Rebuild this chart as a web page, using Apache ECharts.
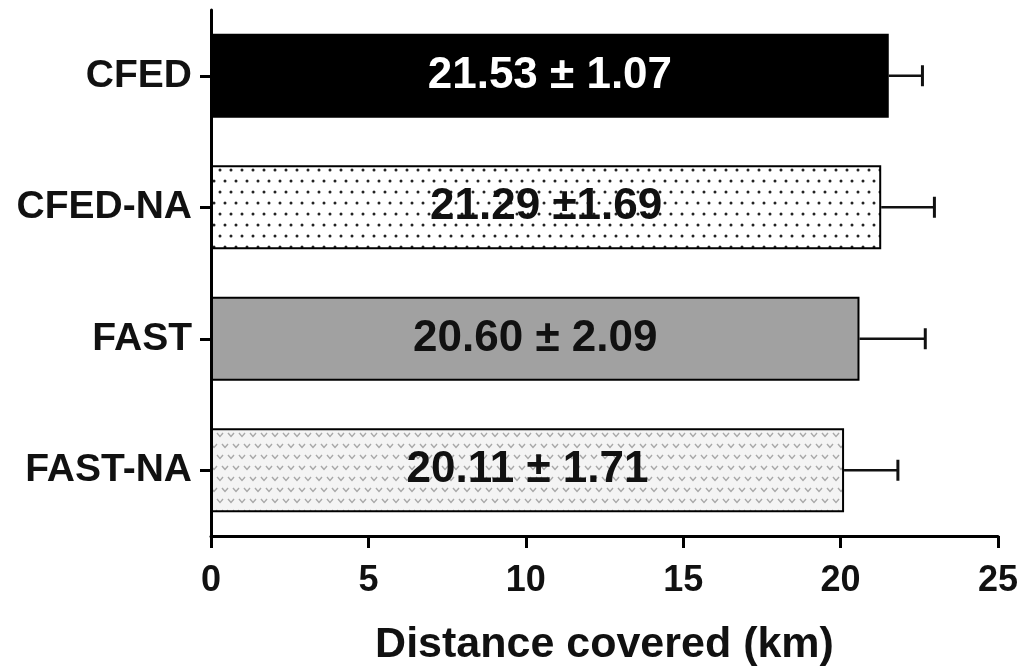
<!DOCTYPE html>
<html><head><meta charset="utf-8">
<script src="https://cdn.jsdelivr.net/npm/echarts@6/dist/echarts.min.js"></script>
<style>html,body{margin:0;padding:0;background:#fff}#c{width:1024px;height:668px}</style>
</head><body><div id="c"></div>
<script>
const categories = ['CFED', 'CFED-NA', 'FAST', 'FAST-NA'];
const means = [21.53, 21.29, 20.60, 20.11];
const sds = [1.07, 1.69, 2.09, 1.71];
const labels = ['21.53 \u00b1 1.07', '21.29 \u00b11.69', '20.60 \u00b1 2.09', '20.11 \u00b1 1.71'];
const xTicks = [0, 5, 10, 15, 20, 25];

function dotPattern() {
  const c = document.createElement('canvas');
  c.width = 22; c.height = 22;
  const g = c.getContext('2d');
  g.fillStyle = '#fff'; g.fillRect(0, 0, 22, 22);
  g.fillStyle = '#222';
  [[5, 5], [16, 5], [0, 16], [11, 16], [22, 16]].forEach(p => { g.beginPath(); g.arc(p[0], p[1], 1.5, 0, Math.PI * 2); g.fill(); });
  return c;
}
function vPattern() {
  const c = document.createElement('canvas');
  c.width = 22; c.height = 22;
  const g = c.getContext('2d');
  g.fillStyle = '#f4f4f4'; g.fillRect(0, 0, 22, 22);
  g.strokeStyle = '#a8a8a8'; g.lineWidth = 1.4;
  [[5, 4], [16, 4], [0, 15], [11, 15], [22, 15]].forEach(p => {
    g.beginPath(); g.moveTo(p[0] - 3, p[1]); g.lineTo(p[0], p[1] + 3.5); g.lineTo(p[0] + 3, p[1]); g.stroke();
  });
  return c;
}
const fills = ['#000000', { image: dotPattern(), repeat: 'repeat' }, '#a1a1a1', { image: vPattern(), repeat: 'repeat' }];
const labelColors = ['#ffffff', '#111', '#111', '#111'];

const chart = echarts.init(document.getElementById('c'));
chart.setOption({
  animation: false,
  grid: { left: 211, right: 26, top: 10, bottom: 132, containLabel: false, outerBoundsMode: 'none' },
  xAxis: {
    type: 'value', min: 0, max: 25, interval: 5,
    name: 'Distance covered (km)', nameLocation: 'middle', nameGap: 88,
    nameTextStyle: { fontFamily: 'Liberation Sans', fontWeight: 'bold', fontSize: 43, color: '#111' },
    axisLine: { show: true, lineStyle: { color: '#000', width: 3 } },
    axisTick: { show: true, length: 12, lineStyle: { color: '#000', width: 3 } },
    axisLabel: { fontFamily: 'Liberation Sans', fontWeight: 'bold', fontSize: 36, color: '#111', margin: 27,
      formatter: v => xTicks.includes(v) ? String(v) : '' },
    splitLine: { show: false }
  },
  yAxis: {
    type: 'category', data: categories, inverse: true,
    axisLine: { show: true, lineStyle: { color: '#000', width: 3 } },
    axisTick: { show: true, alignWithLabel: true, length: 11, lineStyle: { color: '#000', width: 3 } },
    axisLabel: { fontFamily: 'Liberation Sans', fontWeight: 'bold', fontSize: 39, color: '#111', margin: 19 }
  },
  series: [
    {
      type: 'bar', barCategoryGap: '36%',
      data: means.map((v, i) => ({
        value: v,
        itemStyle: { color: fills[i], borderColor: '#000', borderWidth: 2 },
        label: { show: true, position: 'inside', formatter: labels[i], color: labelColors[i],
          fontFamily: 'Liberation Sans', fontWeight: 'bold', fontSize: 44 }
      })),
      z: 2
    },
    {
      type: 'custom',
      data: means.map((v, i) => [i, v, v + sds[i]]),
      encode: { x: [1, 2], y: 0 },
      renderItem: (params, api) => {
        const y = api.value(0);
        const a = api.coord([api.value(1), y]);
        const b = api.coord([api.value(2), y]);
        const h = 10.5;
        return {
          type: 'group',
          children: [
            { type: 'line', shape: { x1: a[0], y1: a[1], x2: b[0], y2: b[1] }, style: { stroke: '#111', lineWidth: 2.5 } },
            { type: 'line', shape: { x1: b[0], y1: b[1] - h, x2: b[0], y2: b[1] + h }, style: { stroke: '#111', lineWidth: 3 } }
          ]
        };
      },
      z: 1
    }
  ]
});
</script></body></html>
